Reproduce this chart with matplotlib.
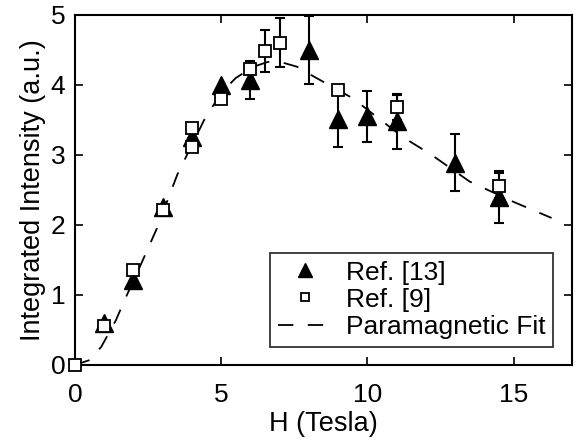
import numpy as np
import matplotlib
matplotlib.use("Agg")
import matplotlib.pyplot as plt

plt.rcParams["font.family"] = ["Liberation Sans", "DejaVu Sans"]

# Ref. [13] (filled triangles)
tri_x = [1, 2, 3, 4, 5, 6, 8, 9, 10, 11, 13, 14.5]
tri_y = [0.60, 1.21, 2.25, 3.26, 4.00, 4.07, 4.50, 3.52, 3.55, 3.48, 2.89, 2.40]
tri_err = [0, 0, 0, 0, 0, 0.27, 0.48, 0.40, 0.36, 0.39, 0.41, 0.37]

# Ref. [9] (open squares)
sq_x = [0, 1, 2, 3, 4, 4, 5, 6, 6.5, 7, 9, 11, 14.5]
sq_y = [0.0, 0.56, 1.36, 2.21, 3.38, 3.12, 3.80, 4.23, 4.49, 4.60, 3.93, 3.68, 2.56]
sq_err = [0, 0, 0, 0, 0, 0, 0, 0, 0.30, 0.35, 0, 0.18, 0.18]

# paramagnetic fit curve
fit_x = [0.0, 0.5, 0.9, 1.4, 1.7, 2.3, 2.8, 3.5, 4.5, 5.1, 5.5, 6.1, 6.6, 7.1,
         7.6, 8.0, 9.5, 10.3, 11.2, 12.2, 13.5, 15.0, 16.3]
fit_y = [0.0, 0.07, 0.26, 0.64, 0.93, 1.48, 1.95, 2.72, 3.57, 3.93, 4.10, 4.26,
         4.33, 4.32, 4.26, 4.16, 3.81, 3.55, 3.26, 3.0, 2.62, 2.33, 2.10]

fig = plt.figure(figsize=(5.79, 4.38), dpi=100)
ax = fig.add_axes([0.1295, 0.1667, 0.8585, 0.7991])

ax.plot(fit_x, fit_y, color="black", lw=1.3, dashes=(8.5, 8),
        label="Paramagnetic Fit", zorder=1)

tx, ty, te = np.array(tri_x), np.array(tri_y), np.array(tri_err)
m = te > 0
ax.errorbar(tx[m], ty[m], yerr=te[m], fmt="none", ecolor="black",
            elinewidth=1.5, capsize=3.8, capthick=1.5, zorder=2)
ax.plot(tx, ty, "^", color="black", ms=12.5, label="Ref. [13]", zorder=3,
        clip_on=False)

sx, sy, se = np.array(sq_x), np.array(sq_y), np.array(sq_err)
m = se > 0
ax.errorbar(sx[m], sy[m], yerr=se[m], fmt="none", ecolor="black",
            elinewidth=1.5, capsize=3.8, capthick=1.5, zorder=2)
ax.plot(sx, sy, "s", mfc="white", mec="black", mew=1.3, ms=8,
        label="Ref. [9]", zorder=4, clip_on=False)

ax.set_xlim(0, 17)
ax.set_ylim(0, 5)
ax.set_xticks([0, 5, 10, 15])
ax.set_yticks([0, 1, 2, 3, 4, 5])
ax.tick_params(direction="in", top=True, right=True, length=6, width=1.2,
               labelsize=19)
ax.tick_params(axis="x", pad=13)
ax.tick_params(axis="y", pad=7)
for s in ax.spines.values():
    s.set_linewidth(1.5)

ax.set_xlabel("H (Tesla)", fontsize=19.5, labelpad=3)
ax.set_ylabel("Integrated Intensity (a.u.)", fontsize=19.5, labelpad=3)

h, l = ax.get_legend_handles_labels()
order = [1, 2, 0]
leg = ax.legend([h[i] for i in order], [l[i] for i in order],
                loc="lower right", bbox_to_anchor=(0.962, 0.052),
                fontsize=19, frameon=True, fancybox=False, edgecolor="black",
                markerscale=0.8, handlelength=2.0, handletextpad=0.55,
                borderpad=0.3, labelspacing=0.12, borderaxespad=0.0)
leg.get_frame().set_linewidth(1.3)

fig.savefig("out.png", dpi=100)
